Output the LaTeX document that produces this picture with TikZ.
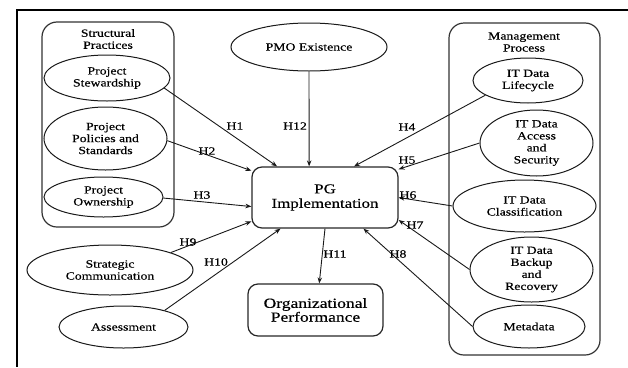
\documentclass[tikz,border=0pt]{standalone}
\usepackage{fontspec}
\setmainfont{Liberation Serif}[FakeStretch=1.25,FakeBold=0.4]
\usetikzlibrary{shapes.geometric,arrows.meta,calc}
\tikzset{
  ell/.style={draw=black!90, line width=1pt, ellipse, inner sep=0pt, align=center,
    font=\fontsize{11}{12}\selectfont},
  grp/.style={draw=black!80, line width=1.2pt, rounded corners=15pt},
  bigbox/.style={draw=black!85, line width=1.2pt, rounded corners=10pt, inner sep=0pt, align=center},
  conn/.style={draw=black!90, line width=0.9pt, -{Stealth[length=6pt,width=4.5pt]}},
  hlab/.style={font=\fontsize{11}{12}\selectfont, inner sep=1pt},
  grplab/.style={align=center, font=\fontsize{11}{12}\selectfont, inner sep=0pt},
  frameline/.style={line width=2pt, black}
}
\begin{document}
\begin{tikzpicture}[x=1pt,y=-1pt]
\useasboundingbox (0,0) rectangle (628,367);
% partial frame
\coordinate (ftr) at (628,10);
\coordinate (ftl) at (16.5,10);
\coordinate (fbl) at (16.5,367);
\draw[frameline] (ftr) -- (ftl) -- (fbl);
% groups
\draw[grp] (42,22) rectangle (174,227);
\draw[grp] (449,23) rectangle (600,355);
\node[grplab] (sp) at (108,39) {Structural\\Practices};
\node[grplab] (mp) at (524,42) {Management\\Process};
% left ellipses
\node[ell, minimum width=126pt, minimum height=46pt] (stew) at (107,78) {Project\\Stewardship};
\node[ell, minimum width=123pt, minimum height=63pt] (pol) at (105.5,138.5) {Project\\Policies and\\Standards};
\node[ell, minimum width=119pt, minimum height=40pt] (own) at (103.5,197) {Project\\Ownership};
\node[ell, minimum width=166pt, minimum height=50pt] (stc) at (110,270) {Strategic\\Communication};
\node[ell, minimum width=129pt, minimum height=42pt] (ass) at (123.5,327) {Assessment};
% top ellipse
\node[ell, minimum width=156pt, minimum height=48pt] (pmo) at (309,47) {PMO Existence};
% right ellipses
\node[ell, minimum width=110pt, minimum height=45pt] (lif) at (528,80.5) {IT Data\\Lifecycle};
\node[ell, minimum width=113pt, minimum height=66pt] (acc) at (536.5,143) {IT Data\\Access\\and\\Security};
\node[ell, minimum width=143pt, minimum height=52pt] (cla) at (524.5,206) {IT Data\\Classification};
\node[ell, minimum width=123pt, minimum height=65pt] (bac) at (531.5,269.5) {IT Data\\Backup\\and\\Recovery};
\node[ell, minimum width=112pt, minimum height=43pt] (met) at (529,326.5) {Metadata};
% central boxes
\node[bigbox, minimum width=146pt, minimum height=61pt, font=\fontsize{13.5}{14.5}\selectfont] (pg) at (325,197.5) {PG\\Implementation};
\node[bigbox, minimum width=135pt, minimum height=52pt, font=\fontsize{14}{11.5}\selectfont] (op) at (315.5,310) {Organizational\\Performance};
% connectors
\draw[conn] (stew.-10) -- (pg.147);
\draw[conn] (pmo.south) -- (pg.117.7);
\draw[conn] (lif.199) -- (pg.47.4);
\draw[conn] (pol.-2) -- (pg.160.5);
\draw[conn] (acc.west) -- (pg.21.3);
\draw[conn] (own.-1) -- (pg.187.4);
\draw[conn] (cla.west) -- (pg.-0.4);
\draw[conn] (stc.16) -- (pg.198.6);
\draw[conn] (ass.22) -- (pg.215.6);
\draw[conn] (bac.west) -- (pg.-17.5);
\draw[conn] (met.west) -- (pg.-39.7);
\draw[conn] (pg.south) -- (op.82.3);
% labels
\node[hlab] (l1) at (235,126) {H1};
\node[hlab] (l12) at (295,126) {H12};
\node[hlab] (l4) at (407,127) {H4};
\node[hlab] (l2) at (207,151) {H2};
\node[hlab] (l5) at (407,160) {H5};
\node[hlab] (l3) at (202,195) {H3};
\node[hlab] (l6) at (408,195) {H6};
\node[hlab] (l7) at (415,225) {H7};
\node[hlab] (l9) at (188,242) {H9};
\node[hlab] (l10) at (216,262) {H10};
\node[hlab] (l11) at (335,254) {H11};
\node[hlab] (l8) at (398,254) {H8};
\end{tikzpicture}
\end{document}
